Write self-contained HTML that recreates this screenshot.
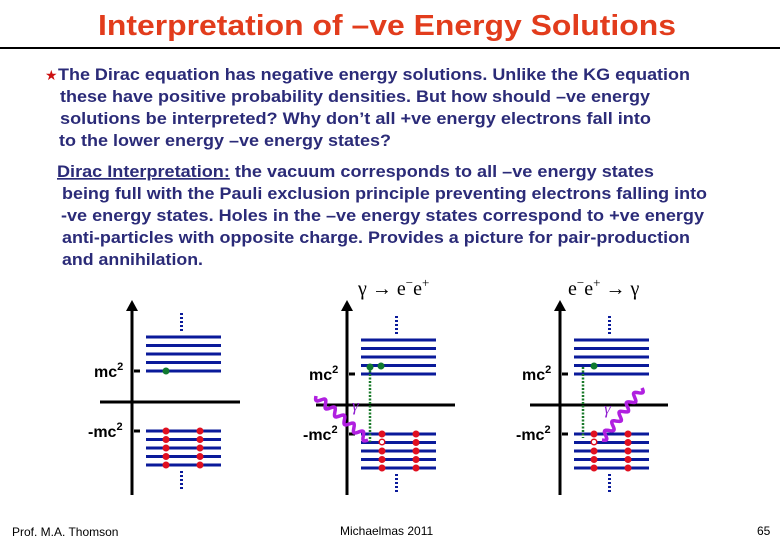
<!DOCTYPE html>
<html><head><meta charset="utf-8"><style>
body{margin:0;background:#fff}
svg{display:block}
text{font-family:"Liberation Sans",sans-serif}
.b{font-weight:bold;fill:#2b2b78;font-size:16.5px}
.lab{font-weight:bold;fill:#000;font-size:16px}
</style></head><body>
<svg width="780" height="540" viewBox="0 0 780 540" xmlns="http://www.w3.org/2000/svg">
<text x="98" y="35" textLength="578" lengthAdjust="spacingAndGlyphs" style="font-size:29px;font-weight:bold;fill:#e23c1c">Interpretation of –ve Energy Solutions</text>
<rect x="0" y="47" width="780" height="2" fill="#000"/>
<text x="45" y="80" style="font-size:14px;fill:#cc1010">★</text>
<g>
<text class="b" x="58" y="80" textLength="632" lengthAdjust="spacingAndGlyphs">The Dirac equation has negative energy solutions. Unlike the KG equation</text>
<text class="b" x="60" y="102" textLength="590" lengthAdjust="spacingAndGlyphs">these have positive probability densities. But how should –ve energy</text>
<text class="b" x="60" y="124" textLength="591" lengthAdjust="spacingAndGlyphs">solutions be interpreted?  Why don’t all +ve energy electrons fall into</text>
<text class="b" x="59" y="146" textLength="332" lengthAdjust="spacingAndGlyphs">to the lower energy –ve energy states?</text>
</g>
<g>
<text class="b" x="57" y="177" textLength="597" lengthAdjust="spacingAndGlyphs"><tspan text-decoration="underline">Dirac Interpretation:</tspan>  the vacuum corresponds to all –ve energy states</text>
<text class="b" x="62" y="199" textLength="645" lengthAdjust="spacingAndGlyphs">being full with the Pauli exclusion principle preventing electrons falling into</text>
<text class="b" x="61" y="221" textLength="643" lengthAdjust="spacingAndGlyphs">-ve energy states. Holes in the –ve energy states correspond to +ve energy</text>
<text class="b" x="62" y="243" textLength="628" lengthAdjust="spacingAndGlyphs">anti-particles with opposite charge. Provides a picture for pair-production</text>
<text class="b" x="62" y="265" textLength="141" lengthAdjust="spacingAndGlyphs">and annihilation.</text>
</g>
<text x="358" y="295" style="font-family:'Liberation Serif',serif;font-size:20px">γ → e<tspan dy="-8" font-size="13">−</tspan><tspan dy="8">e</tspan><tspan dy="-8" font-size="13">+</tspan></text>
<text x="568" y="295" style="font-family:'Liberation Serif',serif;font-size:20px">e<tspan dy="-8" font-size="13">−</tspan><tspan dy="8">e</tspan><tspan dy="-8" font-size="13">+</tspan><tspan dy="8"> → γ</tspan></text>
<g id="diagrams"></g>
<text x="12" y="536" style="font-size:12px">Prof. M.A. Thomson</text>
<text x="340" y="535" style="font-size:12px">Michaelmas 2011</text>
<text x="757" y="535" style="font-size:12px">65</text>
</svg>
<script>
const NS='http://www.w3.org/2000/svg';
const g=document.getElementById('diagrams');
function el(t,a,p){const e=document.createElementNS(NS,t);for(const k in a)e.setAttribute(k,a[k]);(p||g).appendChild(e);return e;}
const diagrams=[
 {ax:132,hy:402,hx1:100,hx2:240,lx:146,lw:75,up:337,lo:431,dots:[166,200],green:[[166,371]],hole:null,dv:null,wave:null,gl:null},
 {ax:347,hy:405,hx1:316,hx2:455,lx:361,lw:75,up:340,lo:434,dots:[382,416],green:[[370,367],[381,366]],hole:[382,442],dv:[370,367,442],wave:[316,396,368,440],gl:[352,411]},
 {ax:560,hy:405,hx1:530,hx2:668,lx:574,lw:75,up:340,lo:434,dots:[594,628],green:[[594,366]],hole:[594,442],dv:[583,367,438],wave:[602,440,642,388],gl:[604,414]}
];
diagrams.forEach((d,i)=>{
 const grp=el('g',{});
 
 
 el('line',{x1:d.ax,y1:308,x2:d.ax,y2:495,stroke:'#000','stroke-width':3},grp);
 el('polygon',{points:`${d.ax-6},311 ${d.ax+6},311 ${d.ax},300`,fill:'#000'},grp);
 el('line',{x1:d.hx1,y1:d.hy,x2:d.hx2,y2:d.hy,stroke:'#000','stroke-width':3},grp);
 const up5=d.up+34, lo1=d.lo;
 for(let k=0;k<5;k++){
  el('line',{x1:d.lx,y1:d.up+k*8.5,x2:d.lx+d.lw,y2:d.up+k*8.5,stroke:'#0a1a9a','stroke-width':3},grp);
  el('line',{x1:d.lx,y1:d.lo+k*8.5,x2:d.lx+d.lw,y2:d.lo+k*8.5,stroke:'#0a1a9a','stroke-width':3},grp);
 }
 const mx=d.lx+d.lw/2-2;
 el('line',{x1:mx,y1:d.up-24,x2:mx,y2:d.up-6,stroke:'#0a1a9a','stroke-width':3,'stroke-dasharray':'2,2'},grp);
 el('line',{x1:mx,y1:d.lo+40,x2:mx,y2:d.lo+60,stroke:'#0a1a9a','stroke-width':3,'stroke-dasharray':'2,2'},grp);
 el('line',{x1:d.ax+2,y1:up5,x2:d.ax+8,y2:up5,stroke:'#000','stroke-width':3},grp);
 el('line',{x1:d.ax+2,y1:lo1,x2:d.ax+8,y2:lo1,stroke:'#000','stroke-width':3},grp);
 const t1=el('text',{x:d.ax-38,y:up5+6,'class':'lab'},grp);t1.innerHTML='mc<tspan dy="-7" font-size="11">2</tspan>';
 const t2=el('text',{x:d.ax-44,y:lo1+6,'class':'lab'},grp);t2.innerHTML='-mc<tspan dy="-7" font-size="11">2</tspan>';
 if(d.dv) el('line',{x1:d.dv[0],y1:d.dv[1],x2:d.dv[0],y2:d.dv[2],stroke:'#1a7a2a','stroke-width':2.5,'stroke-dasharray':'2,1.5'},grp);
 d.dots.forEach(x=>{for(let k=0;k<5;k++){
  if(d.hole&&x===d.hole[0]&&k===1) continue;
  el('circle',{cx:x,cy:d.lo+k*8.5,r:3.5,fill:'#e01020'},grp);}});
 if(d.hole) el('circle',{cx:d.hole[0],cy:d.hole[1],r:2.8,fill:'#fff',stroke:'#e01020','stroke-width':1.5},grp);
 d.green.forEach(p=>el('circle',{cx:p[0],cy:p[1],r:3.5,fill:'#107a30'},grp));
 if(d.wave){
  const [x1,y1,x2,y2]=d.wave;
  const dx=(x2-x1),dy=(y2-y1),L=Math.hypot(dx,dy),nx=-dy/L,ny=dx/L;
  let s='';const N=80,cyc=5.5;
  for(let k=0;k<=N;k++){const t=k/N,a=3.5*Math.sin(t*cyc*2*Math.PI);
   s+=(k?' L':'M')+(x1+dx*t+nx*a).toFixed(1)+','+(y1+dy*t+ny*a).toFixed(1);}
  el('path',{d:s,fill:'none',stroke:'#b020e0','stroke-width':3.5,'stroke-linejoin':'round'},grp);
  const gl=el('text',{x:d.gl[0],y:d.gl[1],style:'font-family:Liberation Serif,serif;font-style:italic;font-size:17px;fill:#9020d0'},grp);gl.textContent='γ';
 }
});
</script>
</body></html>
